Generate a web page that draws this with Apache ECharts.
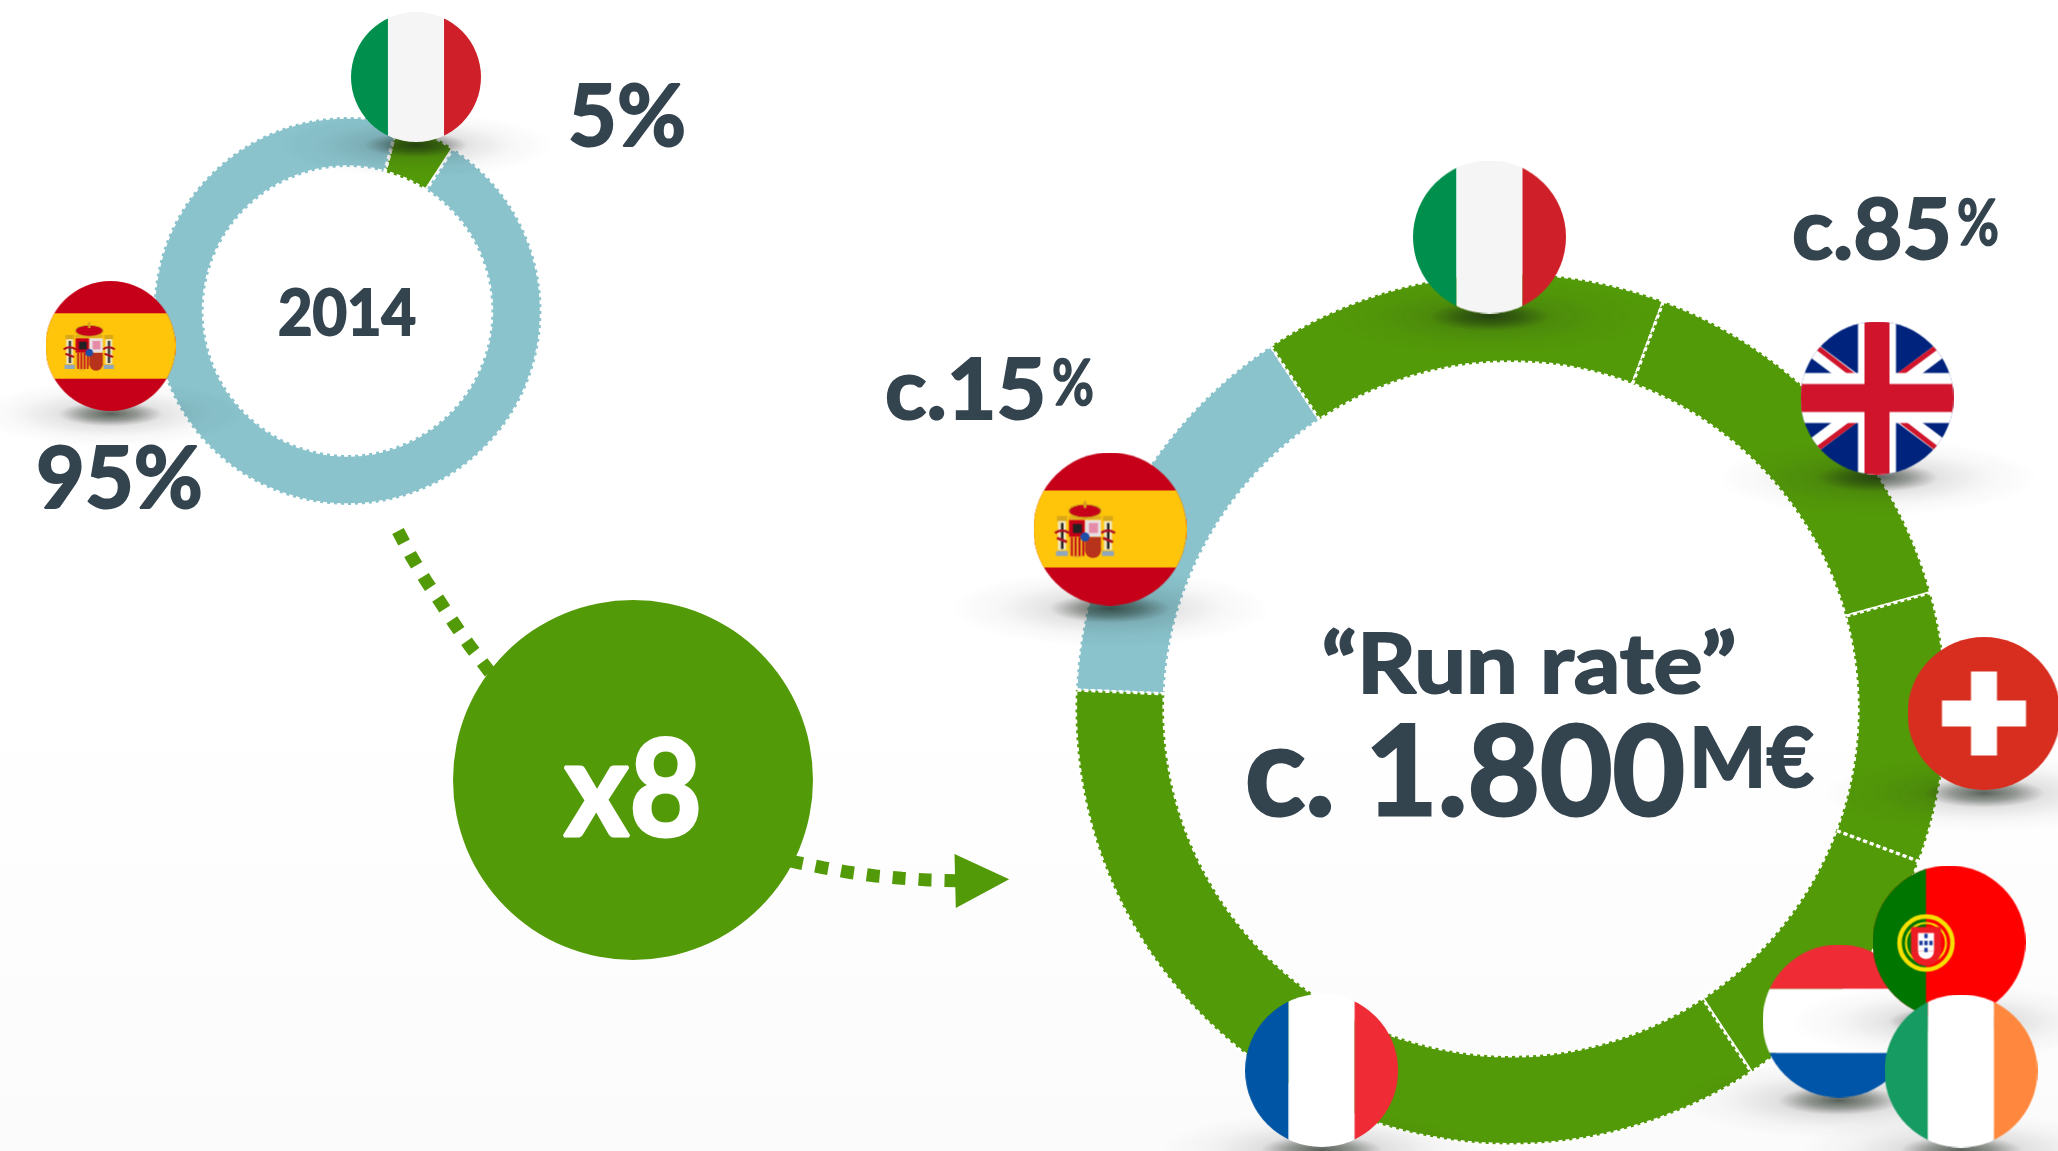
<!DOCTYPE html>
<html>
<head>
<meta charset="utf-8">
<style>html,body{margin:0;padding:0;background:#fff}#c{width:2058px;height:1151px}</style>
<script src="https://cdn.jsdelivr.net/npm/echarts@6/dist/echarts.min.js"></script>
</head>
<body>
<div id="c"></div>
<script>
// ---- data ----
const smallCategories = ['Italy', 'Spain'];
const smallValues = [5, 95];
const bigCategories = ['Spain', 'Italy', 'United Kingdom', 'Switzerland', 'Portugal / Netherlands / Ireland', 'France'];
const bigValues = [15, 15, 15, 10, 10, 35];
const smallColors = ['#539A09', '#8AC3CC'];
const bigColors = ['#8AC3CC', '#539A09', '#539A09', '#539A09', '#539A09', '#539A09'];
const yearLabel = '2014';
const smallPctLabels = ['5%', '95%'];
const multiplierLabel = 'x8';
const runRateLabel = '\u201CRun rate\u201D';
const totalLabel = 'c. 1.800';
const unitLabel = 'M\u20AC';
const bigPctLabels = ['c.85', 'c.15'];

const DARK = '#34444F';
const GREEN = '#539A09';
const FONT = 'Lato, Carlito, sans-serif';

// ---- flag painting ----
const vStripes = cols => (c) => {
  c.fillStyle = cols[0]; c.fillRect(-80, -80, 47, 160);
  c.fillStyle = cols[1]; c.fillRect(-33, -80, 66, 160);
  c.fillStyle = cols[2]; c.fillRect(33, -80, 47, 160);
};
function spain(c) {
  c.fillStyle = '#C50018'; c.fillRect(-80, -80, 160, 160);
  c.fillStyle = '#FFC50A'; c.fillRect(-80, -38.5, 160, 77);
  // pillars
  [-52, -6].forEach(x => {
    c.fillStyle = '#F0E6C0'; c.fillRect(x, -9, 8, 30);
    c.fillStyle = '#222'; c.fillRect(x + 3, -6, 2.5, 26);
    c.fillStyle = '#D8A818'; c.fillRect(x - 1, -13, 10, 5);
    c.fillStyle = '#8FA6C0'; c.fillRect(x - 2, 22, 12, 5);
    c.strokeStyle = '#B01020'; c.lineWidth = 2.5;
    c.beginPath(); c.moveTo(x - 3, 4); c.quadraticCurveTo(x + 4, -1, x + 11, 4); c.moveTo(x - 1, 9); c.lineTo(x + 9, 13); c.stroke();
  });
  // crown
  c.fillStyle = '#E0B020'; c.fillRect(-41, -13, 32, 3.5);
  c.strokeStyle = '#C89818'; c.lineWidth = 1.2; c.fillStyle = '#C50018';
  c.beginPath(); c.ellipse(-25, -18, 16, 6.5, 0, 0, 7); c.fill(); c.stroke();
  c.fillStyle = '#D9A020'; c.fillRect(-26.5, -28, 3, 7);
  // shield
  c.fillStyle = '#C50018'; c.fillRect(-41, -9, 16, 17);
  c.fillStyle = '#E8E0E0'; c.fillRect(-25, -9, 16, 17);
  c.fillStyle = '#E58BA8'; c.fillRect(-21, -6, 9, 10);
  c.fillStyle = '#222'; c.fillRect(-37, -5, 9, 9);
  c.fillStyle = '#E8B020'; c.fillRect(-41, 8, 16, 14);
  c.beginPath(); c.arc(-33, 21, 8, 0, 3.15); c.fill();
  c.fillStyle = '#C50018';
  for (let i = 0; i < 4; i++) c.fillRect(-39 + i * 3.8, 8, 1.8, 19);
  c.fillStyle = '#B8331C'; c.fillRect(-25, 8, 16, 14);
  c.beginPath(); c.arc(-17, 21, 8, 0, 3.15); c.fill();
  c.fillStyle = '#1F4FA8';
  c.beginPath(); c.arc(-25, 8, 4.5, 0, 7); c.fill();
}
function uk(c) {
  c.fillStyle = '#00247D'; c.fillRect(-80, -80, 160, 160);
  c.lineCap = 'butt';
  c.strokeStyle = '#fff'; c.lineWidth = 15;
  c.beginPath(); c.moveTo(-80, -60); c.lineTo(80, 60); c.moveTo(-80, 60); c.lineTo(80, -60); c.stroke();
  c.strokeStyle = '#CF142B'; c.lineWidth = 5;
  c.beginPath(); c.moveTo(-80, -66); c.lineTo(-2, -6); c.moveTo(80, 66); c.lineTo(2, 6);
  c.moveTo(-80, 66); c.lineTo(-2, 8); c.moveTo(80, -66); c.lineTo(2, -8); c.stroke();
  c.fillStyle = '#fff'; c.fillRect(-19, -80, 38, 160); c.fillRect(-80, -25, 160, 50);
  c.fillStyle = '#CF142B'; c.fillRect(-12.5, -80, 25, 160); c.fillRect(-80, -14, 160, 28);
}
function swiss(c) {
  c.fillStyle = '#D72E1F'; c.fillRect(-80, -80, 160, 160);
  c.fillStyle = '#fff'; c.fillRect(-13, -42, 26, 84); c.fillRect(-42, -13, 84, 26);
}
function portugal(c) {
  c.fillStyle = '#FF0000'; c.fillRect(-80, -80, 160, 160);
  c.fillStyle = '#007500'; c.fillRect(-80, -80, 57, 160);
  c.strokeStyle = '#F5E000'; c.lineWidth = 4.5;
  c.beginPath(); c.arc(-23, 1, 26.5, 0, 7); c.stroke();
  c.lineWidth = 2;
  c.beginPath(); c.arc(-23, 1, 20, 0, 7); c.stroke();
  c.fillStyle = '#EE1C25'; c.fillRect(-38, -15, 30, 24);
  c.beginPath(); c.arc(-23, 9, 15, 0, 3.15); c.fill();
  c.fillStyle = '#fff'; c.fillRect(-31, -9, 16, 18);
  c.beginPath(); c.arc(-23, 9, 8, 0, 3.15); c.fill();
  c.fillStyle = '#1F3FA0';
  [[-23, -6], [-28, 1], [-23, 1], [-18, 1], [-23, 8]].forEach(p => c.fillRect(p[0] - 1.7, p[1] - 2.2, 3.4, 4.4));
}
function netherlands(c) {
  c.fillStyle = '#EF2B36'; c.fillRect(-80, -80, 160, 48);
  c.fillStyle = '#fff'; c.fillRect(-80, -32, 160, 64);
  c.fillStyle = '#0055A8'; c.fillRect(-80, 32, 160, 48);
}
const italy = vStripes(['#008F4C', '#F5F5F5', '#CF2029']);
const france = vStripes(['#0055A5', '#FFFFFF', '#EF2B36']);
const ireland = vStripes(['#169B62', '#FFFFFF', '#FF883E']);

function flagCanvas(paint, r) {
  const cv = document.createElement('canvas');
  cv.width = cv.height = Math.ceil(r * 2);
  const c = cv.getContext('2d');
  c.translate(r, r);
  c.beginPath(); c.arc(0, 0, r, 0, Math.PI * 2); c.clip();
  c.scale(r / 76.5, r / 76.5);
  paint(c);
  return cv;
}
function shadowCanvas() {
  const cv = document.createElement('canvas');
  cv.width = cv.height = 256;
  const c = cv.getContext('2d');
  const g = c.createRadialGradient(128, 128, 0, 128, 128, 128);
  g.addColorStop(0, 'rgba(20,30,20,0.7)');
  g.addColorStop(0.2, 'rgba(20,30,20,0.45)');
  g.addColorStop(0.38, 'rgba(30,30,30,0.12)');
  g.addColorStop(0.7, 'rgba(40,40,40,0.035)');
  g.addColorStop(1, 'rgba(40,40,40,0)');
  c.fillStyle = g; c.fillRect(0, 0, 256, 256);
  return cv;
}
const shadowImg = shadowCanvas();

let zc = 10;
function flagEls(paint, cx, cy, r) {
  const w = r * 4.2, h = r * 1.0;
  return [
    { type: 'image', z: zc++, silent: true, style: { image: shadowImg, x: cx - w / 2, y: cy + r + 3 - h / 2, width: w, height: h } },
    { type: 'image', z: zc++, silent: true, style: { image: flagCanvas(paint, r), x: cx - r, y: cy - r, width: r * 2, height: r * 2 } }
  ];
}
function txt(text, x, y, size, o) {
  o = o || {};
  const fill = o.fill || DARK, align = o.align || 'left';
  return { type: 'text', z: 100, silent: true, x, y, scaleX: o.sx || 1, scaleY: o.sy || 1, style: {
    text, fill, stroke: fill, lineWidth: o.lw === undefined ? 2 : o.lw, font: `bold ${size}px ${FONT}`,
    textAlign: align, textVerticalAlign: 'middle', align, verticalAlign: 'middle' } };
}
function dotted(points) {
  return { type: 'polyline', z: 8, silent: true, shape: { points },
    style: { stroke: GREEN, fill: null, lineWidth: 13, lineDash: [13, 13] } };
}

const ring = (center, radius, cats, vals, cols, startAngle, bw, dash) => ({
  type: 'pie', center, radius, startAngle, clockwise: true, silent: true, animation: false,
  label: { show: false }, labelLine: { show: false },
  data: cats.map((n, i) => ({ name: n, value: vals[i], itemStyle: { color: cols[i] } })),
  itemStyle: { borderColor: '#fff', borderWidth: bw, borderType: dash }
});

const option = {
  animation: false,
  backgroundColor: { type: 'linear', x: 0, y: 0, x2: 0, y2: 1, colorStops: [
    { offset: 0, color: '#ffffff' }, { offset: 0.6, color: '#ffffff' }, { offset: 1, color: '#fbfbfb' }] },
  series: [
    ring([347.5, 311], [144, 194], smallCategories, smallValues, smallColors, 75, 3.5, [4, 3]),
    ring([1511, 709], [347, 435.5], bigCategories, bigValues, bigColors, 177.5, 3.2, [4, 3])
  ],
  graphic: { elements: [
    dotted([[398, 531], [411.5, 556.7], [425.5, 580], [440, 601.7], [454.5, 624], [469.6, 645.7], [492, 675]]),
    dotted([[790, 861], [822.8, 867.7], [848.9, 872.3], [875.8, 876], [901.9, 878.3], [928.4, 880], [958, 880.7]]),
    { type: 'polygon', z: 9, silent: true, shape: { points: [[954.5, 854], [955.8, 908], [1009.2, 879.3]] }, style: { fill: GREEN } },
    { type: 'circle', z: 9, silent: true, shape: { cx: 633, cy: 780, r: 180 }, style: { fill: GREEN } },
    ...flagEls(italy, 416, 77, 65),
    ...flagEls(spain, 110.5, 346, 65),
    ...flagEls(italy, 1489.5, 237, 76.5),
    ...flagEls(uk, 1877, 398, 76.5),
    ...flagEls(spain, 1110, 529, 76.5),
    ...flagEls(swiss, 1984, 713.5, 76.5),
    ...flagEls(netherlands, 1839, 1021, 76.5),
    ...flagEls(portugal, 1949, 942, 76.5),
    ...flagEls(ireland, 1961, 1071, 76.5),
    ...flagEls(france, 1321.6, 1070.5, 76.5),
    txt(yearLabel, 347, 314, 64, { align: 'center', sx: 0.93 }),
    txt(smallPctLabels[0], 568, 118, 86, { sx: 0.98 }),
    txt(smallPctLabels[1], 36, 480, 86, { sx: 0.98 }),
    txt(multiplierLabel, 633, 792, 135, { align: 'center', fill: '#ffffff', sx: 0.93, lw: 3 }),
    txt(bigPctLabels[0], 1792, 232, 85),
    txt('%', 1957, 224, 64, { sx: 0.8, lw: 1.5 }),
    txt(bigPctLabels[1], 885, 392, 85, { sx: 1.01 }),
    txt('%', 1052, 384, 64, { sx: 0.8, lw: 1.5 }),
    txt(runRateLabel, 1529, 667, 82, { align: 'center', sx: 1.12 }),
    txt(totalLabel, 1245, 775, 125, { lw: 3 }),
    txt(unitLabel, 1689, 761, 82)
  ] }
};
const chart = echarts.init(document.getElementById('c'), null, { renderer: 'canvas', width: 2058, height: 1151 });
chart.setOption(option);
</script>
</body>
</html>
